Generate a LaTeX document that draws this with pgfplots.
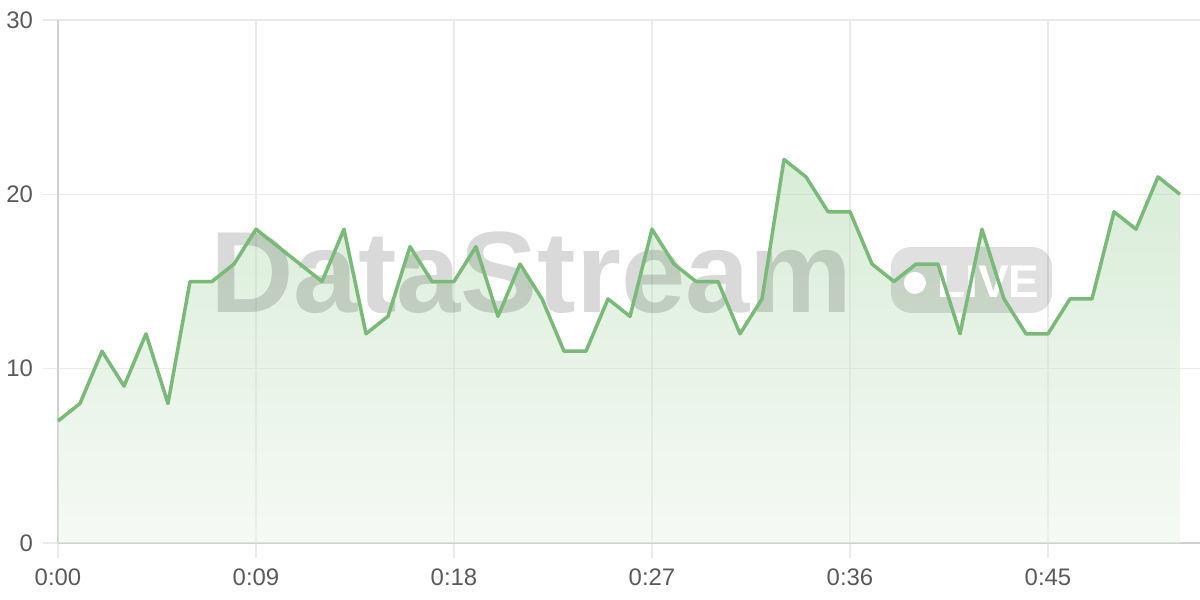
\documentclass[border=0pt]{standalone}
\usepackage{fontspec}
\setmainfont{Liberation Sans}
\usepackage{pgfplots}
\pgfplotsset{compat=1.18}
\definecolor{linegreen}{RGB}{122,186,120}
\definecolor{filltop}{RGB}{176,218,174}
\definecolor{fillbot}{RGB}{237,245,235}
\definecolor{gridgray}{RGB}{234,234,234}
\definecolor{axisgray}{RGB}{208,208,208}
\definecolor{labelgray}{RGB}{90,90,90}
\pgfplotstableread{
t v
0 7
1 8
2 11
3 9
4 12
5 8
6 15
7 15
8 16
9 18
10 17
11 16
12 15
13 18
14 12
15 13
16 17
17 15
18 15
19 17
20 13
21 16
22 14
23 11
24 11
25 14
26 13
27 18
28 16
29 15
30 15
31 12
32 14
33 22
34 21
35 19
36 19
37 16
38 15
39 16
40 16
41 12
42 18
43 14
44 12
45 12
46 14
47 14
48 19
49 18
50 21
51 20
}\datatable
\begin{document}
\begin{tikzpicture}
\path[use as bounding box] (0,0) rectangle (600bp,300bp);
\begin{axis}[
  at={(29bp,28.5bp)}, anchor=south west,
  scale only axis, width=571bp, height=261.5bp,
  xmin=0, xmax=51.909, ymin=0, ymax=30,
  axis x line=bottom, axis y line=left,
  axis line style={-, draw=axisgray, line width=1bp},
  grid=major, grid style={draw=gridgray, line width=0.75bp},
  xtick={0,9,18,27,36,45},
  xticklabels={0:00,0:09,0:18,0:27,0:36,0:45},
  ytick={0,10,20,30},
  tick align=outside, major tick length=7.5bp,
  tick style={draw=gridgray, line width=0.75bp},
  tick label style={font=\fontsize{12}{12}\selectfont, text=labelgray},
  xticklabel style={yshift=-2bp},
  yticklabel style={xshift=-1.5bp},
  /pgf/number format/assume math mode=true,
  clip=false,
]
\addplot[draw=none, top color=filltop, bottom color=fillbot, fill opacity=0.5] table[x=t,y=v] {\datatable} \closedcycle;
\node[anchor=base west, inner sep=0pt, text=black, text opacity=0.15,
      font=\fontsize{58}{58}\selectfont\bfseries] at (axis cs:6.91,13.2) {DataStream};
\fill[black, fill opacity=0.12, rounded corners=10bp] (axis cs:37.86,13.2) rectangle (axis cs:45.18,16.98);
\fill[white] (axis cs:38.95,14.92) circle[radius=5.5bp];
\node[anchor=base west, inner sep=0pt, text=white,
      font=\fontsize{23}{23}\selectfont\bfseries] at (axis cs:39.95,14.06) {LIVE};
\addplot[draw=linegreen, line width=1.75bp, line join=round, mark=none] table[x=t,y=v] {\datatable};
\end{axis}
\end{tikzpicture}
\end{document}
